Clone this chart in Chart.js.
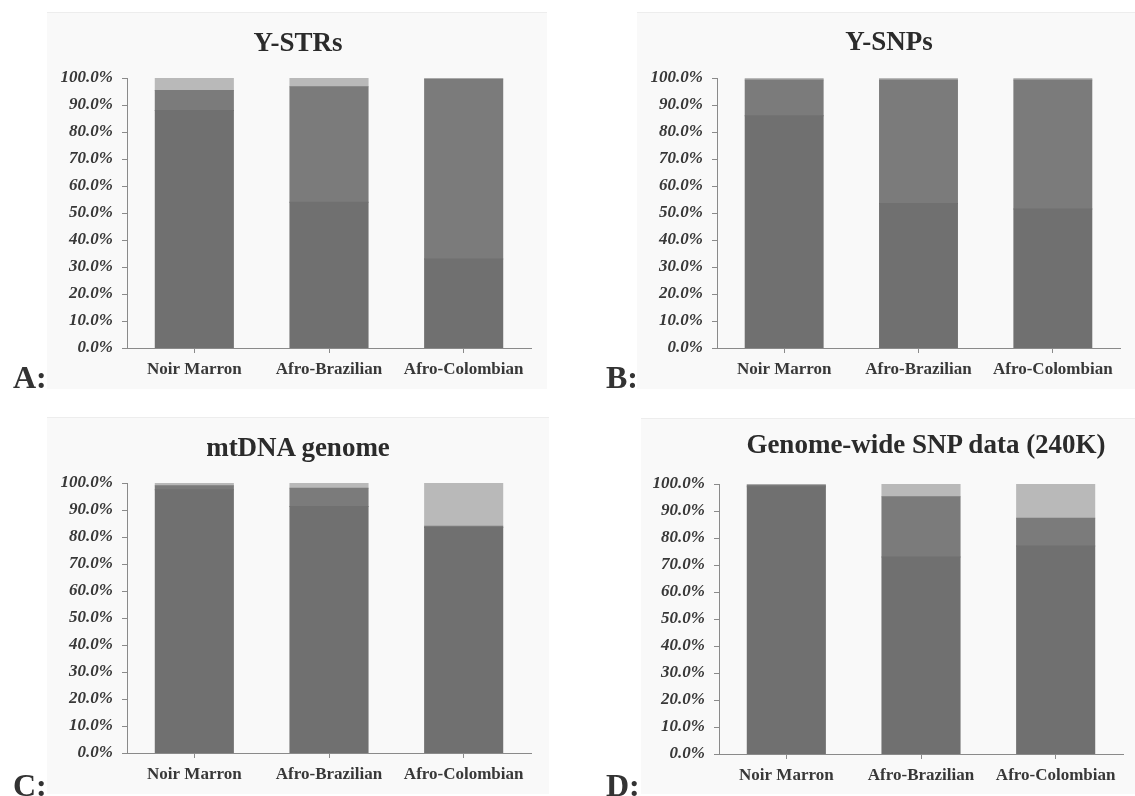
<!DOCTYPE html>
<html>
<head>
<meta charset="utf-8">
<script src="https://cdn.jsdelivr.net/npm/chart.js@4/dist/chart.umd.min.js"></script>
<style>
  html, body { margin: 0; padding: 0; }
  body { width: 1135px; height: 796px; background: #ffffff; position: relative; overflow: hidden; font-family: "Liberation Serif", "DejaVu Serif", serif; }
  .frame { position: absolute; background: #f9f9f9; border-top: 1px solid #ededed; }
  .box { position: absolute; }
  .title { position: absolute; font-weight: bold; font-size: 27px; line-height: 1; color: #2b2b2b; transform: translateX(-50%); white-space: nowrap; }
  .letter { position: absolute; font-weight: bold; font-size: 32px; line-height: 1; color: #333333; white-space: nowrap; }
</style>
</head>
<body>
<div class="frame" style="left:47px;top:12px;width:500px;height:376px;"></div>
<div class="frame" style="left:637px;top:12px;width:498px;height:376px;"></div>
<div class="frame" style="left:47px;top:417px;width:502px;height:376px;"></div>
<div class="frame" style="left:641px;top:418px;width:494px;height:375px;"></div>

<div class="box" style="left:0px;top:0px;width:567px;height:400px;"><canvas id="cA"></canvas></div>
<div class="box" style="left:567px;top:0px;width:568px;height:400px;"><canvas id="cB"></canvas></div>
<div class="box" style="left:0px;top:400px;width:567px;height:396px;"><canvas id="cC"></canvas></div>
<div class="box" style="left:567px;top:400px;width:568px;height:396px;"><canvas id="cD"></canvas></div>

<div class="title" id="tA" style="left:298px;top:29px;"></div>
<div class="title" id="tB" style="left:889px;top:28px;"></div>
<div class="title" id="tC" style="left:298px;top:434px;"></div>
<div class="title" id="tD" style="left:926px;top:431px;"></div>

<div class="letter" id="lA" style="left:13px;top:361px;"></div>
<div class="letter" id="lB" style="left:606px;top:361px;"></div>
<div class="letter" id="lC" style="left:13px;top:769px;"></div>
<div class="letter" id="lD" style="left:606px;top:769px;"></div>

<script>
// ---------- data ----------
const categories = ['Noir Marron', 'Afro-Brazilian', 'Afro-Colombian'];
const seriesNames = ['African', 'European', 'Native American'];
const panelTitles = ['Y-STRs', 'Y-SNPs', 'mtDNA genome', 'Genome-wide SNP data (240K)'];
const panelLetters = ['A:', 'B:', 'C:', 'D:'];
const yTickLabels = ['0.0%', '10.0%', '20.0%', '30.0%', '40.0%', '50.0%', '60.0%', '70.0%', '80.0%', '90.0%', '100.0%'];

// A: Y-STRs
const ystrAfrican  = [88.0, 54.0, 33.0];
const ystrEuropean = [7.4, 42.8, 66.5];
const ystrNative   = [4.6, 3.2, 0.5];
// B: Y-SNPs
const ysnpAfrican  = [86.0, 53.5, 51.5];
const ysnpEuropean = [13.3, 45.8, 47.8];
const ysnpNative   = [0.7, 0.7, 0.7];
// C: mtDNA genome
const mtAfrican  = [97.5, 91.3, 83.5];
const mtEuropean = [1.5, 6.8, 0.5];
const mtNative   = [1.0, 1.9, 16.0];
// D: Genome-wide SNP data (240K)
const gwAfrican  = [99.0, 73.0, 77.0];
const gwEuropean = [0.5, 22.3, 10.3];
const gwNative   = [0.5, 4.7, 12.7];

// ---------- style ----------
const seriesColors = ['#707070', '#7b7b7b', '#b9b9b9'];
const textColor = '#383838';
const axisColor = '#8a8a8a';
const serif = '"Liberation Serif", "DejaVu Serif", serif';

function makeChart(id, african, european, native, pad) {
  const values = [african, european, native];
  return new Chart(document.getElementById(id), {
    type: 'bar',
    data: {
      labels: categories,
      datasets: values.map((v, i) => ({
        label: seriesNames[i],
        data: v,
        backgroundColor: seriesColors[i],
        borderWidth: 0,
        inflateAmount: 0.5,
        barPercentage: 0.58,
        categoryPercentage: 1.0
      }))
    },
    options: {
      responsive: true,
      maintainAspectRatio: false,
      animation: false,
      devicePixelRatio: 1,
      layout: { padding: pad },
      plugins: { legend: { display: false }, title: { display: false }, tooltip: { enabled: false } },
      scales: {
        x: {
          stacked: true,
          afterFit: s => { s.height = 40; },
          border: { display: true, color: axisColor, width: 1 },
          grid: { display: true, offset: false, drawOnChartArea: false, drawTicks: true, tickLength: 5, color: axisColor },
          ticks: { color: textColor, padding: 6, maxRotation: 0, autoSkip: false,
                   font: { family: serif, size: 17, weight: 'bold' } }
        },
        y: {
          stacked: true,
          min: 0, max: 100,
          afterFit: s => { s.width = 70; },
          afterBuildTicks: s => { s.ticks = yTickLabels.map((t, i) => ({ value: i * 10 })); },
          border: { display: true, color: axisColor, width: 1 },
          grid: { display: true, drawOnChartArea: false, drawTicks: true, tickLength: 5, color: axisColor },
          ticks: { color: textColor, padding: 9,
                   callback: (v, i) => yTickLabels[i],
                   font: { family: serif, size: 17, weight: 'bold', style: 'italic' } }
        }
      }
    }
  });
}

makeChart('cA', ystrAfrican, ystrEuropean, ystrNative, { left: 57, right: 36, top: 78, bottom: 12 });
makeChart('cB', ysnpAfrican, ysnpEuropean, ysnpNative, { left: 80, right: 15, top: 78, bottom: 12 });
makeChart('cC', mtAfrican, mtEuropean, mtNative, { left: 57, right: 36, top: 83, bottom: 3 });
makeChart('cD', gwAfrican, gwEuropean, gwNative, { left: 82, right: 12, top: 84, bottom: 2 });

['tA', 'tB', 'tC', 'tD'].forEach((id, i) => { document.getElementById(id).textContent = panelTitles[i]; });
['lA', 'lB', 'lC', 'lD'].forEach((id, i) => { document.getElementById(id).textContent = panelLetters[i]; });
</script>
</body>
</html>
